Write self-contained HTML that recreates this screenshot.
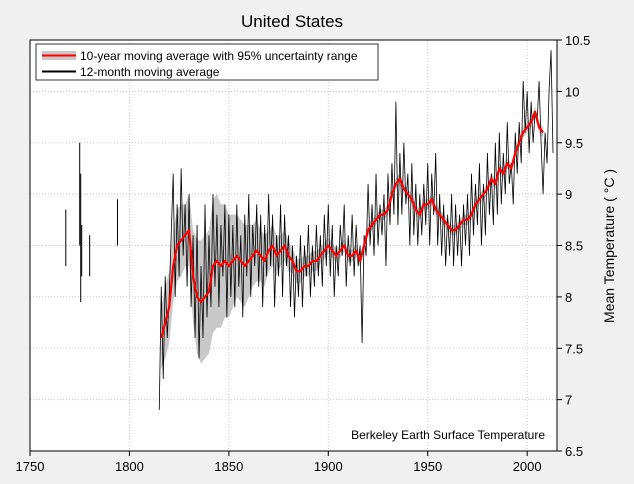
<!DOCTYPE html>
<html><head><meta charset="utf-8"><style>
html,body{margin:0;padding:0;background:#f0f0f0;}
svg{display:block;font-family:"Liberation Sans",sans-serif;}
</style></head><body>
<svg id="chart" width="634" height="484" viewBox="0 0 634 484">
<rect x="0" y="0" width="634" height="484" fill="#f0f0f0"/>
<rect x="30" y="40" width="527" height="411" fill="#fff"/>
<g id="grid"></g>
<g id="band"></g>
<g id="black"></g>
<g id="red"></g>
<rect x="30" y="40" width="527" height="411" fill="none" stroke="#000" stroke-width="1"/>
<g id="axes"></g>
<text x="292" y="27" font-size="17" text-anchor="middle">United States</text>
<text transform="translate(614,246) rotate(-90)" font-size="14" text-anchor="middle">Mean Temperature ( °C )</text>
<text x="545" y="439" font-size="12" text-anchor="end">Berkeley Earth Surface Temperature</text>
<g>
<rect x="36" y="44" width="342" height="36" fill="#fff" stroke="#333" stroke-width="1"/>
<rect x="42" y="51" width="34" height="9" fill="#c8c8c8"/>
<line x1="42" y1="55.5" x2="76" y2="55.5" stroke="#ff0000" stroke-width="2"/>
<text x="80" y="60" font-size="12">10-year moving average with 95% uncertainty range</text>
<line x1="42" y1="71.5" x2="76" y2="71.5" stroke="#000" stroke-width="2"/>
<text x="80" y="76" font-size="12">12-month moving average</text>
</g>
</svg>
<script>
const xTicks=[1750,1800,1850,1900,1950,2000];
const yTicks=[6.5,7,7.5,8,8.5,9,9.5,10,10.5];
const yTickLabels=["6.5","7","7.5","8","8.5","9","9.5","10","10.5"];
const redStart=1816;
const redValues=[7.6,7.75,7.9,8.3,8.5,8.55,8.6,8.65,8.2,8.0,7.95,8.0,8.05,8.3,8.35,8.3,8.35,8.3,8.35,8.4,8.35,8.3,8.35,8.4,8.45,8.4,8.35,8.45,8.5,8.4,8.45,8.5,8.4,8.35,8.25,8.25,8.3,8.3,8.35,8.35,8.4,8.45,8.5,8.45,8.4,8.45,8.5,8.4,8.4,8.45,8.35,8.5,8.65,8.7,8.75,8.8,8.8,8.85,9.0,9.1,9.15,9.05,9.0,8.95,8.85,8.8,8.9,8.9,8.95,8.85,8.8,8.75,8.7,8.65,8.65,8.7,8.75,8.75,8.8,8.9,8.95,9.0,9.05,9.15,9.1,9.25,9.2,9.3,9.25,9.4,9.5,9.6,9.65,9.7,9.8,9.65,9.6];
const redUncert=[0.3,0.35,0.35,0.35,0.35,0.35,0.3,0.35,0.45,0.55,0.6,0.6,0.6,0.65,0.65,0.6,0.55,0.5,0.45,0.4,0.4,0.4,0.35,0.3,0.3,0.25,0.25,0.2,0.2,0.2,0.15,0.15,0.15,0.12,0.12,0.12,0.1,0.1,0.1,0.1,0.08,0.08,0.08,0.07,0.07,0.07,0.06,0.06,0.06,0.06,0.06,0.06,0.06,0.05,0.05,0.05,0.05,0.05,0.05,0.05,0.05,0.05,0.05,0.05,0.05,0.05,0.05,0.05,0.05,0.05,0.05,0.05,0.05,0.05,0.05,0.05,0.05,0.05,0.05,0.05,0.05,0.05,0.05,0.05,0.05,0.05,0.05,0.05,0.05,0.05,0.05,0.05,0.05,0.05,0.05,0.05,0.05];
const blackStart=1815;
const blackValues=[6.9,8.1,7.2,8.2,7.6,8.0,8.6,9.2,8.0,8.9,8.2,9.25,8.4,8.9,8.1,9.0,7.9,8.6,7.6,8.7,7.4,8.3,7.6,8.9,7.8,8.6,7.9,9.0,8.1,8.8,7.9,8.7,8.2,8.9,7.8,8.8,8.0,8.7,7.9,8.9,8.1,8.6,7.8,8.8,8.2,9.0,8.0,8.7,8.3,8.9,8.1,8.8,7.9,8.7,8.2,9.0,8.3,8.8,7.9,8.6,8.2,8.9,8.0,8.8,8.3,8.6,7.9,8.5,7.8,8.4,8.0,8.6,7.9,8.5,8.2,8.7,8.0,8.5,8.1,8.7,8.2,8.6,8.1,8.8,8.3,8.9,8.2,8.7,8.0,8.5,8.2,8.7,8.4,8.9,8.1,8.6,8.3,8.8,8.2,8.7,8.3,8.5,7.55,8.6,8.4,9.1,8.5,8.9,8.4,9.2,8.5,8.9,8.6,9.0,8.3,9.2,8.7,9.3,8.8,9.9,8.7,9.4,8.8,9.5,8.9,9.2,8.5,9.3,8.6,9.1,8.5,9.0,8.6,9.1,8.7,9.3,8.5,9.2,8.8,9.4,8.5,9.0,8.4,8.9,8.3,8.8,8.4,9.0,8.3,8.9,8.4,8.8,8.3,8.9,8.5,9.0,8.4,9.2,8.6,9.1,8.7,9.3,8.5,9.1,8.6,9.4,8.8,9.2,8.7,9.5,8.8,9.6,8.9,9.4,9.0,9.7,9.1,9.3,8.9,9.6,9.2,9.7,9.3,10.1,9.6,10.0,9.4,9.9,9.5,9.8,9.7,10.1,9.5,9.0,9.6,9.3,10.0,10.4,9.4];
const earlyYears=[1768,1775,1775.5,1776,1780,1794];
const earlyLow=[8.3,8.5,7.95,8.2,8.2,8.5];
const earlyHigh=[8.85,9.5,9.2,8.7,8.6,8.95];

const NS="http://www.w3.org/2000/svg";
const X=y=>30+(y-1750)*(527/265);
const Y=v=>451-(v-6.5)*(411/4);
function mk(tag,parent,attrs){const e=document.createElementNS(NS,tag);for(const k in attrs)e.setAttribute(k,attrs[k]);document.getElementById(parent).appendChild(e);return e;}

xTicks.forEach((t,i)=>{
  const gx=mk('line','grid',{x1:X(t),x2:X(t),y1:40,y2:451,stroke:'#c8c8c8','stroke-dasharray':'1,2','stroke-width':1});
  
  
  const tk=mk('line','axes',{x1:X(t),x2:X(t),y1:451,y2:456,stroke:'#000'});
  
  
  const tx=mk('text','axes',{x:X(t),y:471,'font-size':13,'text-anchor':'middle'});
  tx.textContent=t;
  
  
});
yTicks.forEach((t,i)=>{
  const gy=mk('line','grid',{x1:30,x2:557,y1:Y(t),y2:Y(t),stroke:'#c8c8c8','stroke-dasharray':'1,2','stroke-width':1});
  
  
  const tk=mk('line','axes',{x1:557,x2:562,y1:Y(t),y2:Y(t),stroke:'#000'});
  
  
  const tx=mk('text','axes',{x:565,y:Y(t)+5,'font-size':13});
  tx.textContent=yTickLabels[i];
  
  
});

let up=[],dn=[];
redValues.forEach((v,i)=>{const yr=redStart+2*i;up.push(X(yr)+','+Y(v+redUncert[i]));dn.unshift(X(yr)+','+Y(v-redUncert[i]));});
const band=mk('polygon','band',{points:up.concat(dn).join(' '),fill:'#c8c8c8'});



const bp=blackValues.map((v,i)=>X(blackStart+i)+','+Y(v)).join(' ');
const bl=mk('polyline','black',{points:bp,fill:'none',stroke:'#000','stroke-width':0.8});


earlyYears.forEach((yr,i)=>{
  const l=mk('line','black',{x1:X(yr),x2:X(yr),y1:Y(earlyLow[i]),y2:Y(earlyHigh[i]),stroke:'#000','stroke-width':1});
  
  
});

const rp=redValues.map((v,i)=>X(redStart+2*i)+','+Y(v)).join(' ');
const rl=mk('polyline','red',{points:rp,fill:'none',stroke:'#ff0000','stroke-width':2.2,'stroke-linejoin':'round'});


</script>
</body></html>
